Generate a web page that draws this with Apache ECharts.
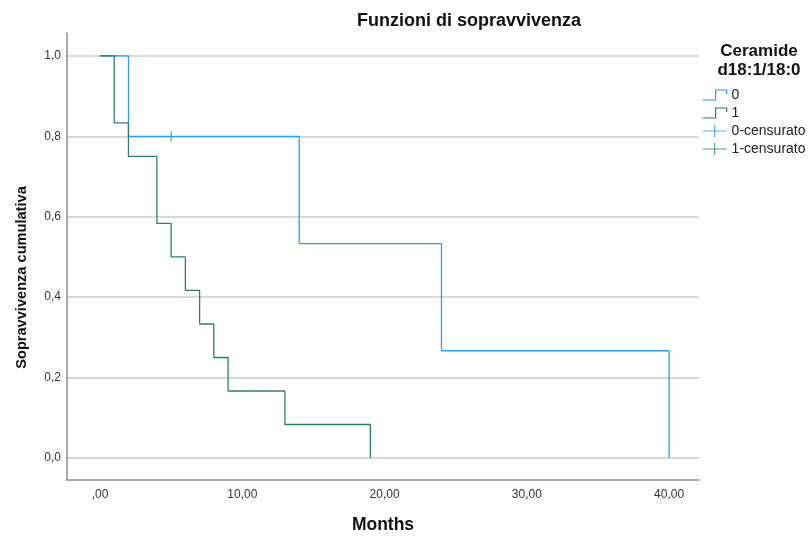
<!DOCTYPE html>
<html>
<head>
<meta charset="utf-8">
<script src="https://cdn.jsdelivr.net/npm/echarts@6/dist/echarts.min.js"></script>
<style>
  html, body { margin: 0; padding: 0; background: #fff; }
  #chart { width: 809px; height: 537px; }
</style>
</head>
<body>
<div id="chart"></div>
<script>
// Kaplan-Meier survival estimates (months, cumulative survival)
const group0Times = [0, 2, 14, 24, 40];
const group0Surv = [1.0, 0.8, 0.5333, 0.2667, 0.0];
const group0CensorTimes = [5];
const group0CensorSurv = [0.8];

const group1Times = [0, 1, 2, 4, 5, 6, 7, 8, 9, 13, 19];
const group1Surv = [1.0, 0.8333, 0.75, 0.5833, 0.5, 0.4167, 0.3333, 0.25, 0.1667, 0.0833, 0.0];

const xTicks = [0, 10, 20, 30, 40];
const yTicks = [0, 0.2, 0.4, 0.6, 0.8, 1.0];

const seriesNames = ['0', '1', '0-censurato', '1-censurato'];

const BLUE = '#2b9cf2';
const TEAL = '#2f7b75';
const FONT = '"Liberation Sans", Arial, sans-serif';

const pairs = (xs, ys) => xs.map((x, i) => [x, ys[i]]);

const chart = echarts.init(document.getElementById('chart'), null, { renderer: 'canvas' });

const stepIcon = 'path://M0,11L13,11L13,1L24,1L24,5';
const crossIcon = 'path://M0,6L24,6M12,0L12,12';

chart.setOption({
  animation: false,
  backgroundColor: '#ffffff',
  textStyle: { fontFamily: FONT },
  title: [
    {
      text: 'Funzioni di sopravvivenza',
      left: 464, top: 7, textAlign: 'center',
      textStyle: { fontFamily: FONT, fontSize: 18, fontWeight: 'bold', color: '#111' }
    },
    {
      text: 'Ceramide\nd18:1/18:0',
      left: 754, top: 37, textAlign: 'center',
      textStyle: { fontFamily: FONT, fontSize: 17, fontWeight: 'bold', color: '#111', lineHeight: 19 }
    }
  ],
  legend: {
    orient: 'vertical',
    left: 702, top: 88, padding: 0,
    itemWidth: 24, itemHeight: 12, itemGap: 4,
    textStyle: { fontFamily: FONT, fontSize: 14, color: '#222' },
    data: [
      { name: seriesNames[0], icon: stepIcon,
        itemStyle: { color: 'rgba(0,0,0,0)', borderColor: BLUE, borderWidth: 1.2 } },
      { name: seriesNames[1], icon: stepIcon,
        itemStyle: { color: 'rgba(0,0,0,0)', borderColor: TEAL, borderWidth: 1.2 } },
      { name: seriesNames[2], icon: crossIcon,
        itemStyle: { color: 'rgba(0,0,0,0)', borderColor: BLUE, borderWidth: 1.2 } },
      { name: seriesNames[3], icon: crossIcon,
        itemStyle: { color: 'rgba(0,0,0,0)', borderColor: TEAL, borderWidth: 1.2 } }
    ]
  },
  grid: { left: 67, top: 33, right: 110, bottom: 57, containLabel: false, outerBoundsMode: 'none' },
  xAxis: {
    type: 'value',
    min: -2.32, max: 42.1,
    name: 'Months',
    nameLocation: 'middle',
    nameGap: 36,
    nameTextStyle: { fontFamily: FONT, fontSize: 17.5, fontWeight: 'bold', color: '#111' },
    axisLine: { show: true, onZero: false, lineStyle: { color: '#8c8c8c', width: 1.5 } },
    axisTick: { show: false, customValues: xTicks },
    splitLine: { show: false },
    axisLabel: {
      customValues: xTicks,
      margin: 9,
      fontFamily: FONT, fontSize: 12, color: '#333',
      formatter: v => (v === 0 ? ',00' : v.toFixed(2).replace('.', ','))
    }
  },
  yAxis: {
    type: 'value',
    min: -0.0547, max: 1.057,
    name: 'Sopravvivenza cumulativa',
    nameLocation: 'middle',
    nameGap: 38,
    nameTextStyle: { fontFamily: FONT, fontSize: 14.6, fontWeight: 'bold', color: '#111', padding: [0, 42, 0, 0] },
    axisLine: { show: true, onZero: false, lineStyle: { color: '#8c8c8c', width: 1.5 } },
    axisTick: { show: false, customValues: yTicks },
    splitLine: { show: true, lineStyle: { color: '#cccccc', width: 1.5 } },
    axisLabel: {
      customValues: yTicks,
      margin: 6,
      fontFamily: FONT, fontSize: 12, color: '#333',
      formatter: v => v.toFixed(1).replace('.', ',')
    }
  },
  series: [
    {
      name: seriesNames[0], type: 'line', step: 'end',
      data: pairs(group0Times, group0Surv),
      showSymbol: false, symbol: 'none',
      lineStyle: { color: BLUE, width: 1.3 }, itemStyle: { color: BLUE },
      z: 3
    },
    {
      name: seriesNames[1], type: 'line', step: 'end',
      data: pairs(group1Times, group1Surv),
      showSymbol: false, symbol: 'none',
      lineStyle: { color: TEAL, width: 1.3 }, itemStyle: { color: TEAL },
      z: 4
    },
    {
      name: seriesNames[2], type: 'scatter',
      data: pairs(group0CensorTimes, group0CensorSurv),
      symbol: 'rect', symbolSize: [1.5, 10],
      itemStyle: { color: BLUE },
      z: 5
    },
    {
      name: seriesNames[3], type: 'scatter',
      data: [],
      symbol: 'rect', symbolSize: [1.5, 10],
      itemStyle: { color: TEAL },
      z: 5
    }
  ]
});
</script>
</body>
</html>
